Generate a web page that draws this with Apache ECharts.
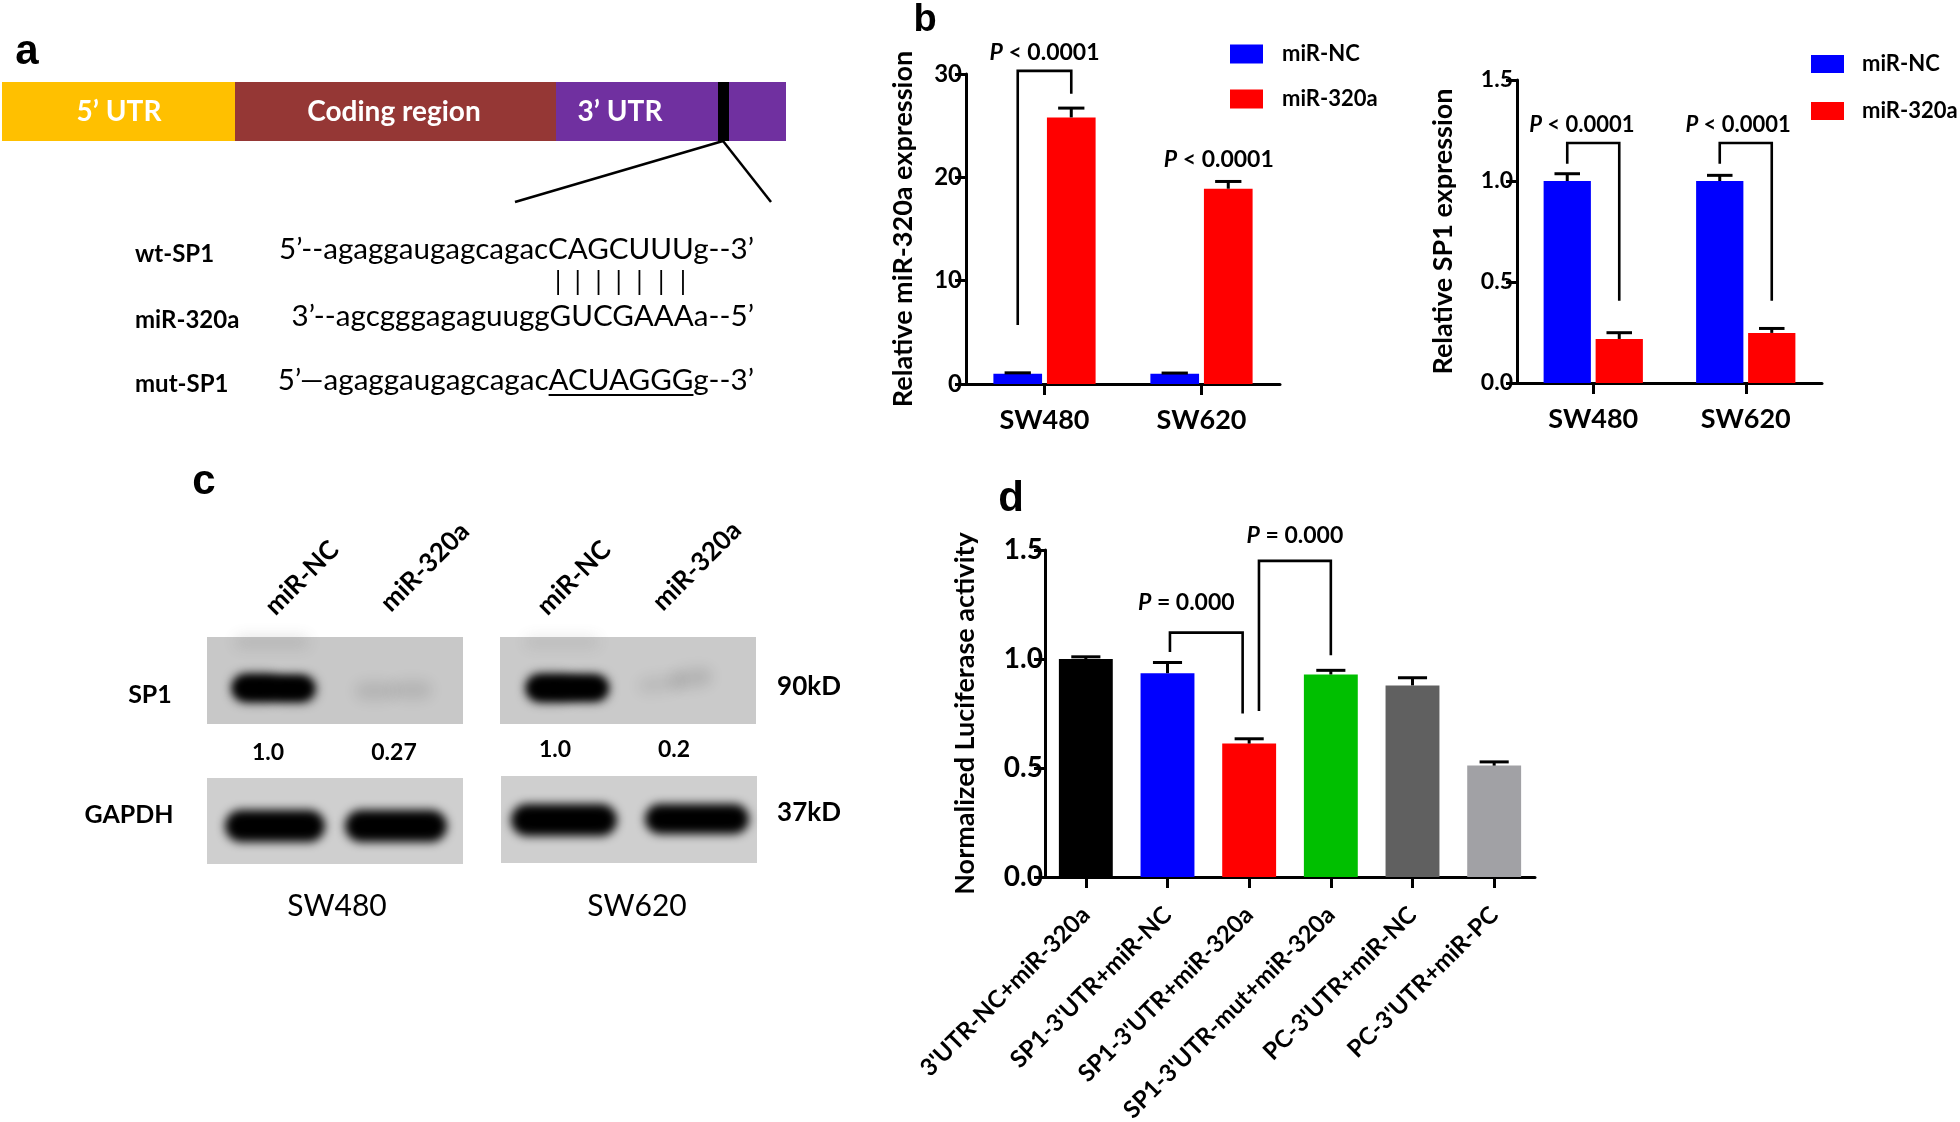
<!DOCTYPE html>
<html><head><meta charset="utf-8">
<script src="https://cdn.jsdelivr.net/npm/echarts@6/dist/echarts.min.js"></script>
<style>html,body{margin:0;padding:0;background:#fff}#c{width:1960px;height:1122px}</style>
</head><body><div id="c"></div>
<script>
// ---------- DATA ----------
// Panel b (left): relative miR-320a expression
const cellLines = ['SW480', 'SW620'];
const mirNC = [1.0, 1.0];
const mirNCErr = [1.08, 1.06];
const mir320a = [25.8, 18.9];
const mir320aErr = [26.7, 19.6];
const mirTicks = [0, 10, 20, 30];
// Panel b (right): relative SP1 expression
const sp1NC = [1.0, 1.0];
const sp1NCErr = [1.036, 1.028];
const sp1320a = [0.218, 0.248];
const sp1320aErr = [0.249, 0.27];
const sp1Ticks = [0, 0.5, 1.0, 1.5];
// Panel d: normalized luciferase activity
const lucCategories = ["3'UTR-NC+miR-320a", "SP1-3'UTR+miR-NC", "SP1-3'UTR+miR-320a", "SP1-3'UTR-mut+miR-320a", "PC-3'UTR+miR-NC", "PC-3'UTR+miR-PC"];
const lucValues = [1.0, 0.935, 0.612, 0.929, 0.879, 0.511];
const lucErr = [1.01, 0.984, 0.634, 0.948, 0.914, 0.528];
const lucColors = ['#000000', '#0000ff', '#ff0000', '#00bf00', '#606060', '#a1a1a5'];
const lucTicks = [0, 0.5, 1.0, 1.5];
// Significance annotations: [cat1, offset1, cat2, offset2, leftLegBottom, top, rightLegBottom]
const mirBrackets = [[0, -0.1705, 0, 0.1705, 5.7, 30.3, 28.1]];
const mirPLabels = [[0, 0, 32.1], [1, 0.11, 21.7]];
const mirPText = ['< 0.0001', '< 0.0001'];
const sp1Brackets = [[0, -0.1705, 0, 0.1705, 1.086, 1.188, 0.407], [1, -0.1705, 1, 0.1705, 1.086, 1.188, 0.407]];
const sp1PLabels = [[0, -0.075, 1.279], [1, -0.05, 1.279]];
const sp1PText = ['< 0.0001', '< 0.0001'];
const lucBrackets = [[1, 0.03, 2, -0.08, 1.032, 1.121, 0.75], [2, 0.12, 3, 0, 0.761, 1.45, 1.017]];
const lucPLabels = [[1, 0.23, 1.261], [2, 0.56, 1.567]];
const lucPText = ['= 0.000', '= 0.000'];
// Panel c: western blot
const blotLanes = ['miR-NC', 'miR-320a', 'miR-NC', 'miR-320a'];
const blotQuant = ['1.0', '0.27', '1.0', '0.2'];
const blotCells = ['SW480', 'SW620'];
const blotProteins = ['SP1', 'GAPDH'];
const blotSizes = ['90kD', '37kD'];
// Panel a: sequences
const seqNames = ['wt-SP1', 'miR-320a', 'mut-SP1'];
const seqPrefix = ['5\u2019--agaggaugagcagac', '3\u2019--agcgggagaguugg', '5\u2019\u2014agaggaugagcagac'];
const seqSeed = ['CAGCUUU', 'GUCGAAA', 'ACUAGGG'];
const seqSuffix = ['g--3\u2019', 'a--5\u2019', 'g--3\u2019'];
const geneRegions = ['5\u2019 UTR', 'Coding region', '3\u2019 UTR'];

// ---------- HELPERS ----------
const FF = 'Lato, "Open Sans", sans-serif';
const mctx = document.createElement('canvas').getContext('2d');
function tw(text, font) { mctx.font = font; return mctx.measureText(text).width; }

function errRender(off, barFrac) {
  return function (params, api) {
    const cat = api.value(0), v = api.value(1), e = api.value(2);
    const bw = api.size([1, 0])[0];
    const p0 = api.coord([cat, v]);
    const p1 = api.coord([cat, e]);
    const x = p0[0] + off * bw;
    const hw = bw * barFrac * 0.27;
    return { type: 'group', children: [
      { type: 'line', shape: { x1: x, y1: p0[1], x2: x, y2: p1[1] }, style: { stroke: '#000', lineWidth: 3 } },
      { type: 'line', shape: { x1: x - hw, y1: p1[1], x2: x + hw, y2: p1[1] }, style: { stroke: '#000', lineWidth: 3 } }
    ] };
  };
}
function bracketRender(params, api) {
  const bw = api.size([1, 0])[0];
  const xa = api.coord([api.value(0), 0])[0] + api.value(1) * bw;
  const xb = api.coord([api.value(2), 0])[0] + api.value(3) * bw;
  const yl = api.coord([api.value(0), api.value(4)])[1];
  const yt = api.coord([api.value(0), api.value(5)])[1];
  const yr = api.coord([api.value(0), api.value(6)])[1];
  return { type: 'polyline', shape: { points: [[xa, yl], [xa, yt], [xb, yt], [xb, yr]] },
    style: { stroke: '#000', lineWidth: 2.6, fill: null } };
}
function pLabelRender(texts, size) {
  return function (params, api) {
    const bw = api.size([1, 0])[0];
    const p = api.coord([api.value(0), api.value(2)]);
    return { type: 'text', x: p[0] + api.value(1) * bw, y: p[1],
      style: { text: '{p|P} ' + texts[params.dataIndex], align: 'center', verticalAlign: 'middle',
        fontFamily: FF, fontWeight: 'bold', fontSize: size, fill: '#000',
        rich: { p: { fontStyle: 'italic', fontWeight: 'bold', fontFamily: FF, fontSize: size, fill: '#000' } } } };
  };
}
function yAxisCfg(grid, ticks, name, nameGap, labelSize, fmt, margin) {
  return { type: 'value', gridIndex: grid, min: ticks[0], max: ticks[ticks.length - 1],
    interval: ticks[1] - ticks[0], name: name, nameLocation: 'middle', nameGap: nameGap,
    nameTextStyle: { fontFamily: FF, fontWeight: 'bold', fontSize: 27, color: '#000' },
    axisLine: { show: true, lineStyle: { color: '#000', width: 3 } },
    axisTick: { show: true, length: 11, lineStyle: { color: '#000', width: 3 } },
    axisLabel: { fontFamily: FF, fontWeight: 'bold', fontSize: labelSize, color: '#000', margin: margin,
      formatter: fmt },
    splitLine: { show: false } };
}
function xAxisCfg(grid, data, labelCfg) {
  return { type: 'category', gridIndex: grid, data: data,
    axisLine: { show: true, lineStyle: { color: '#000', width: 3 } },
    axisTick: { show: true, alignWithLabel: true, length: 11, lineStyle: { color: '#000', width: 3 } },
    axisLabel: Object.assign({ fontFamily: FF, fontWeight: 'bold', color: '#000', interval: 0 }, labelCfg),
    splitLine: { show: false } };
}

// ---------- GRAPHICS (panels a & c) ----------
const g = [];
function txt(x, y, text, size, weight, opts) {
  g.push(Object.assign({ type: 'text', x: x, y: y, style: Object.assign({ text: text, align: 'center', verticalAlign: 'middle',
    fontFamily: FF, fontSize: size, fontWeight: weight, fill: '#000' }, (opts && opts.style) || {}) },
    opts && opts.rotation ? { rotation: opts.rotation } : {}));
}
// panel letters
const letterFont = { fontFamily: '"Liberation Sans", Arial, sans-serif' };
txt(27, 52, 'a', 42, 'bold', { style: letterFont });
txt(925, 21, 'b', 38, 'bold', { style: letterFont });
txt(204, 482, 'c', 42, 'bold', { style: letterFont });
txt(1011, 499, 'd', 42, 'bold', { style: letterFont });

// panel a: gene schematic
const regionX = [2, 235, 556, 786];
const regionColors = ['#ffc000', '#953735', '#7030a0'];
for (let i = 0; i < 3; i++) {
  g.push({ type: 'rect', shape: { x: regionX[i], y: 82, width: regionX[i + 1] - regionX[i], height: 59 }, style: { fill: regionColors[i] } });
}
g.push({ type: 'rect', shape: { x: 718, y: 82, width: 11, height: 59 }, style: { fill: '#000' } });
const regionCx = [119, 394, 620];
for (let i = 0; i < 3; i++) txt(regionCx[i], 112, geneRegions[i], 28, 'bold', { style: { fill: '#fff' } });
g.push({ type: 'line', shape: { x1: 723, y1: 141, x2: 515, y2: 202 }, style: { stroke: '#000', lineWidth: 2.5 } });
g.push({ type: 'line', shape: { x1: 723, y1: 141, x2: 771, y2: 202 }, style: { stroke: '#000', lineWidth: 2.5 } });
const seqY = [249, 316, 380];
const nameY = [254, 320, 384];
const seqSize = 29.6;
const seqFont = 'normal ' + seqSize + 'px Lato';
const seqRight = 754;
const seqStarts = [];
for (let i = 0; i < 3; i++) {
  g.push({ type: 'text', x: 135, y: nameY[i], style: { text: seqNames[i], align: 'left', verticalAlign: 'middle',
    fontFamily: FF, fontSize: 24, fontWeight: 'bold', fill: '#000' } });
  const full = seqPrefix[i] + seqSeed[i] + seqSuffix[i];
  const start = seqRight - tw(full, seqFont);
  seqStarts.push(start);
  g.push({ type: 'text', x: start, y: seqY[i], style: { text: full, align: 'left', verticalAlign: 'middle',
    fontFamily: 'Lato', fontSize: seqSize, fontWeight: 'normal', fill: '#000' } });
}
// pairing lines under wt seed
for (let k = 0; k < seqSeed[0].length; k++) {
  const x = seqStarts[0] + tw(seqPrefix[0] + seqSeed[0].slice(0, k), seqFont) + tw(seqSeed[0][k], seqFont) / 2;
  g.push({ type: 'line', shape: { x1: x, y1: 270, x2: x, y2: 295 }, style: { stroke: '#000', lineWidth: 1.8 } });
}
// underline mutated seed
{
  const x1 = seqStarts[2] + tw(seqPrefix[2], seqFont);
  const x2 = x1 + tw(seqSeed[2], seqFont);
  g.push({ type: 'line', shape: { x1: x1, y1: 395, x2: x2, y2: 395 }, style: { stroke: '#000', lineWidth: 1.8 } });
}

// panel c: western blot
const blots = [[207, 637, 256, 87, '#c8c8c8'], [500, 637, 256, 87, '#cacaca'], [207, 778, 256, 86, '#cfcfcf'], [501, 776, 256, 87, '#cfcfcf']];
blots.forEach(b => g.push({ type: 'rect', shape: { x: b[0], y: b[1], width: b[2], height: b[3] }, style: { fill: b[4] } }));
const OFF = 4000;
// soft (blurred) blob: the shape is drawn off-canvas and only its blurred shadow shows
function band(cx, cy, w, h, col, blur, rot) {
  g.push({ type: 'rect', x: cx - OFF, y: cy, rotation: rot || 0, shape: { x: -w / 2, y: -h / 2, width: w, height: h, r: h / 2 },
    style: { fill: col, shadowBlur: blur, shadowColor: col, shadowOffsetX: OFF, shadowOffsetY: 0 } });
}
// smear at top of miR-NC lanes
band(272, 642, 74, 12, 'rgba(90,90,90,0.4)', 14);
band(562, 642, 74, 12, 'rgba(90,90,90,0.35)', 14);
// SP1
band(257, 688, 48, 26, '#000', 12);
band(293, 689, 44, 24, '#000', 12);
band(273, 688, 78, 22, '#000', 10);
band(375, 691, 40, 18, 'rgba(0,0,0,0.32)', 14);
band(412, 690, 40, 18, 'rgba(0,0,0,0.32)', 14);
band(551, 688, 48, 26, '#000', 12);
band(586, 688, 44, 24, '#000', 12);
band(567, 688, 78, 22, '#000', 10);
band(660, 684, 44, 16, 'rgba(0,0,0,0.28)', 14, 0.12);
band(692, 678, 40, 18, 'rgba(0,0,0,0.34)', 14, 0.12);
// GAPDH
band(275, 826, 100, 32, '#000', 10);
band(396, 826, 102, 32, '#000', 10);
band(564, 820, 106, 32, '#000', 10);
band(697, 819, 104, 30, '#000', 10);
// labels
const laneCenters = [[302, 578], [425, 567], [574, 578], [697, 566]];
blotLanes.forEach((l, i) => txt(laneCenters[i][0], laneCenters[i][1], l, 26, 'bold', { rotation: Math.PI / 4 }));
const quantPos = [[268, 753], [394, 753], [555, 750], [674, 750]];
blotQuant.forEach((q, i) => txt(quantPos[i][0], quantPos[i][1], q, 23, 'bold'));
txt(150, 695, blotProteins[0], 25, 'bold');
txt(129, 815, blotProteins[1], 25, 'bold');
txt(809, 687, blotSizes[0], 26, 'bold');
txt(809, 813, blotSizes[1], 26, 'bold');
txt(337, 906, blotCells[0], 30, 'normal');
txt(637, 906, blotCells[1], 30, 'normal');

// ---------- CHART ----------
const chart = echarts.init(document.getElementById('c'), null, { renderer: 'canvas', width: 1960, height: 1122 });
const fmt1 = v => v.toFixed(1);
const option = {
  backgroundColor: '#fff',
  animation: false,
  grid: [
    { left: 966, top: 74, width: 314, height: 310, outerBoundsMode: 'none' },
    { left: 1517, top: 80, width: 305, height: 303, outerBoundsMode: 'none' },
    { left: 1045, top: 550, width: 490, height: 327, outerBoundsMode: 'none' }
  ],
  xAxis: [
    xAxisCfg(0, cellLines, { fontSize: 27, margin: 23 }),
    xAxisCfg(1, cellLines, { fontSize: 27, margin: 23 }),
    xAxisCfg(2, lucCategories, { fontSize: 24, margin: 34, rotate: 45 })
  ],
  yAxis: [
    yAxisCfg(0, mirTicks, 'Relative miR-320a expression', 49, 24, v => String(v), 4),
    yAxisCfg(1, sp1Ticks, 'Relative SP1 expression', 60, 23, fmt1, 4),
    yAxisCfg(2, lucTicks, 'Normalized Luciferase activity', 66, 28, fmt1, 2)
  ],
  legend: [
    { data: ['miR-NC', 'miR-320a'], orient: 'vertical', left: 1230, top: 43, padding: 0,
      itemWidth: 33, itemHeight: 19, itemGap: 23, icon: 'rect', selectedMode: false,
      textStyle: { fontFamily: FF, fontWeight: 'bold', fontSize: 22, color: '#000', lineHeight: 19, padding: [0, 0, 0, 14] } },
    { data: ['miR-NC', 'miR-320a'], orient: 'vertical', left: 1811, top: 53, padding: 0,
      itemWidth: 33, itemHeight: 18, itemGap: 25, icon: 'rect', selectedMode: false,
      textStyle: { fontFamily: FF, fontWeight: 'bold', fontSize: 22, color: '#000', lineHeight: 18, padding: [0, 0, 0, 13] } }
  ],
  graphic: { elements: g },
  series: [
    { name: 'miR-NC', type: 'bar', xAxisIndex: 0, yAxisIndex: 0, data: mirNC, barWidth: '31%', barGap: '10%', itemStyle: { color: '#0000ff' } },
    { name: 'miR-320a', type: 'bar', xAxisIndex: 0, yAxisIndex: 0, data: mir320a, barWidth: '31%', barGap: '10%', itemStyle: { color: '#ff0000' } },
    { type: 'custom', xAxisIndex: 0, yAxisIndex: 0, renderItem: errRender(-0.1705, 0.31), clip: false, z: 5,
      data: mirNC.map((v, i) => [i, v, mirNCErr[i]]) },
    { type: 'custom', xAxisIndex: 0, yAxisIndex: 0, renderItem: errRender(0.1705, 0.31), clip: false, z: 5,
      data: mir320a.map((v, i) => [i, v, mir320aErr[i]]) },
    { type: 'custom', xAxisIndex: 0, yAxisIndex: 0, renderItem: bracketRender, clip: false, z: 6, encode: { x: 0, y: 5 }, data: mirBrackets },
    { type: 'custom', xAxisIndex: 0, yAxisIndex: 0, renderItem: pLabelRender(mirPText, 23), clip: false, z: 6, encode: { x: 0, y: 2 }, data: mirPLabels },

    { name: 'miR-NC', type: 'bar', xAxisIndex: 1, yAxisIndex: 1, data: sp1NC, barWidth: '31%', barGap: '10%', itemStyle: { color: '#0000ff' } },
    { name: 'miR-320a', type: 'bar', xAxisIndex: 1, yAxisIndex: 1, data: sp1320a, barWidth: '31%', barGap: '10%', itemStyle: { color: '#ff0000' } },
    { type: 'custom', xAxisIndex: 1, yAxisIndex: 1, renderItem: errRender(-0.1705, 0.31), clip: false, z: 5,
      data: sp1NC.map((v, i) => [i, v, sp1NCErr[i]]) },
    { type: 'custom', xAxisIndex: 1, yAxisIndex: 1, renderItem: errRender(0.1705, 0.31), clip: false, z: 5,
      data: sp1320a.map((v, i) => [i, v, sp1320aErr[i]]) },
    { type: 'custom', xAxisIndex: 1, yAxisIndex: 1, renderItem: bracketRender, clip: false, z: 6, encode: { x: 0, y: 5 }, data: sp1Brackets },
    { type: 'custom', xAxisIndex: 1, yAxisIndex: 1, renderItem: pLabelRender(sp1PText, 22), clip: false, z: 6, encode: { x: 0, y: 2 }, data: sp1PLabels },

    { name: 'luc', type: 'bar', xAxisIndex: 2, yAxisIndex: 2, barWidth: '66%',
      data: lucValues.map((v, i) => ({ value: v, itemStyle: { color: lucColors[i] } })) },
    { type: 'custom', xAxisIndex: 2, yAxisIndex: 2, renderItem: errRender(0, 0.66), clip: false, z: 5,
      data: lucValues.map((v, i) => [i, v, lucErr[i]]) },
    { type: 'custom', xAxisIndex: 2, yAxisIndex: 2, renderItem: bracketRender, clip: false, z: 6, encode: { x: 0, y: 5 }, data: lucBrackets },
    { type: 'custom', xAxisIndex: 2, yAxisIndex: 2, renderItem: pLabelRender(lucPText, 23), clip: false, z: 6, encode: { x: 0, y: 2 }, data: lucPLabels }
  ]
};
chart.setOption(option);
</script></body></html>
